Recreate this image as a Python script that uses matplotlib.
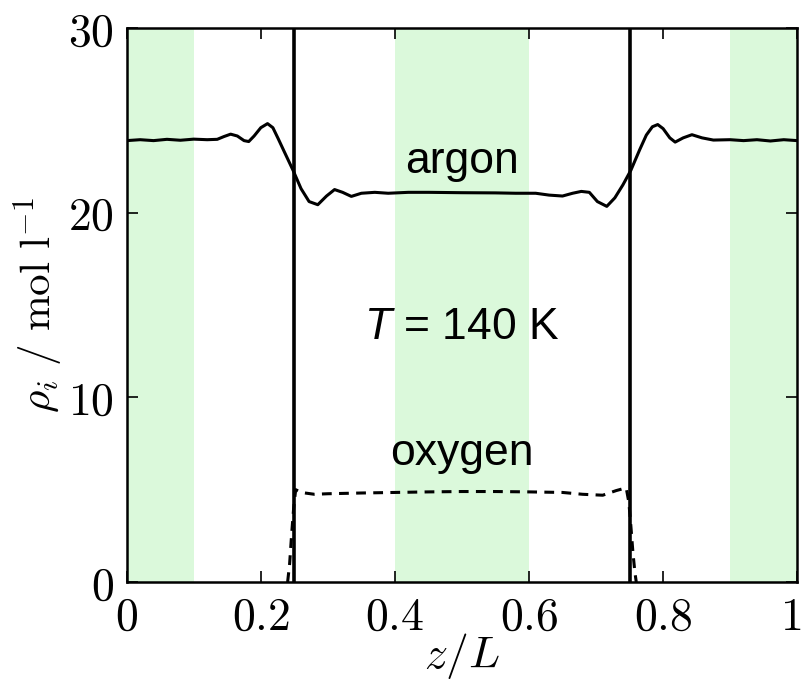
import matplotlib
matplotlib.use("Agg")
import matplotlib.pyplot as plt
from matplotlib.ticker import FuncFormatter
from matplotlib.transforms import ScaledTranslation

plt.rcParams["mathtext.fontset"] = "cm"
# sans italic for the temperature symbol (used via math_fontfamily="custom")
plt.rcParams["mathtext.it"] = "Liberation Sans:italic"
plt.rcParams["mathtext.rm"] = "Liberation Sans"

# density profiles across the slab (z/L, mol/l)
argon_z = [0.0, 0.02, 0.04, 0.06, 0.08, 0.10, 0.12, 0.135, 0.145, 0.155, 0.165,
           0.175, 0.182, 0.19, 0.2, 0.21, 0.218, 0.226, 0.235, 0.248, 0.26,
           0.272, 0.285, 0.298, 0.31, 0.322, 0.335, 0.35, 0.37, 0.39, 0.42,
           0.45, 0.5, 0.55, 0.58, 0.61, 0.63, 0.65, 0.665, 0.678, 0.69, 0.702,
           0.716, 0.728, 0.74, 0.752, 0.765, 0.775, 0.784, 0.792, 0.8, 0.81,
           0.818, 0.83, 0.843, 0.858, 0.875, 0.9, 0.92, 0.94, 0.96, 0.98, 1.0]
argon_rho = [23.9, 23.95, 23.9, 23.97, 23.92, 23.98, 23.95, 23.97, 24.12, 24.25,
             24.15, 23.9, 23.85, 24.15, 24.6, 24.82, 24.6, 24.0, 23.3, 22.3,
             21.3, 20.6, 20.43, 20.9, 21.25, 21.1, 20.88, 21.05, 21.1, 21.05,
             21.1, 21.1, 21.08, 21.07, 21.05, 21.05, 20.95, 20.9, 21.05, 21.15,
             21.1, 20.6, 20.34, 20.8, 21.5, 22.3, 23.4, 24.2, 24.65, 24.77,
             24.55, 24.05, 23.82, 24.05, 24.22, 24.05, 23.93, 23.95, 23.9, 23.95,
             23.88, 23.95, 23.9]

oxygen_z = [0.240, 0.243, 0.246, 0.249, 0.252, 0.26, 0.28, 0.30, 0.35, 0.40,
            0.45, 0.50, 0.55, 0.60, 0.65, 0.68, 0.71, 0.73, 0.745, 0.749,
            0.752, 0.755, 0.758, 0.760]
oxygen_rho = [0.0, 1.0, 2.6, 4.0, 5.0, 4.85, 4.75, 4.78, 4.82, 4.85,
              4.88, 4.9, 4.9, 4.88, 4.85, 4.75, 4.7, 4.95, 5.1, 4.3,
              3.0, 1.6, 0.5, 0.0]

# averaging windows and interface positions
bands = [(0.0, 0.1), (0.4, 0.6), (0.9, 1.0)]
interfaces = [0.25, 0.75]

x_ticks = [0, 0.2, 0.4, 0.6, 0.8, 1]
y_ticks = [0, 10, 20, 30]

fig = plt.figure(figsize=(8.02, 6.82), dpi=100)
ax = fig.add_axes([0.158, 0.1466, 0.836, 0.8124])

for lo, hi in bands:
    ax.axvspan(lo, hi, color="#dbf9db", lw=0, zorder=0)
for zi in interfaces:
    ax.axvline(zi, color="black", lw=2.6, zorder=3)

ax.plot(argon_z, argon_rho, color="black", lw=2.2, zorder=4,
        solid_joinstyle="round")
ax.plot(oxygen_z, oxygen_rho, color="black", lw=2.2, dashes=(3.2, 2.4), zorder=4)

sans = ["Liberation Sans", "DejaVu Sans"]
ax.text(0.5, 22.17, "argon", ha="center", va="baseline", fontsize=32, family=sans)
ax.text(0.5, 13.15, r"$T$ = 140 K", ha="center", va="baseline",
        fontsize=32, family=sans, math_fontfamily="custom")
ax.text(0.5, 6.34, "oxygen", ha="center", va="baseline", fontsize=32, family=sans)

ax.set_xlim(0, 1)
ax.set_ylim(0, 30)
ax.set_xticks(x_ticks)
ax.set_yticks(y_ticks)
ax.xaxis.set_major_formatter(FuncFormatter(lambda v, p: f"${v:g}$"))
ax.yaxis.set_major_formatter(FuncFormatter(lambda v, p: f"${v:g}$"))
ax.tick_params(direction="in", length=8, width=1.2, top=True, right=True,
               labelsize=33, pad=9)
for s in ax.spines.values():
    s.set_linewidth(1.8)

# nudge the last x tick label so it stays inside the figure
last = ax.xaxis.get_major_ticks()[-1].label1
last.set_transform(last.get_transform()
                   + ScaledTranslation(-7 / 100, 0, fig.dpi_scale_trans))

ax.set_xlabel(r"$z/L$", fontsize=33, labelpad=-6)
ax.set_ylabel(r"$\rho_i\ /\ \mathrm{mol\ l^{-1}}$", fontsize=31, labelpad=2)

fig.savefig("out.png", dpi=100)
